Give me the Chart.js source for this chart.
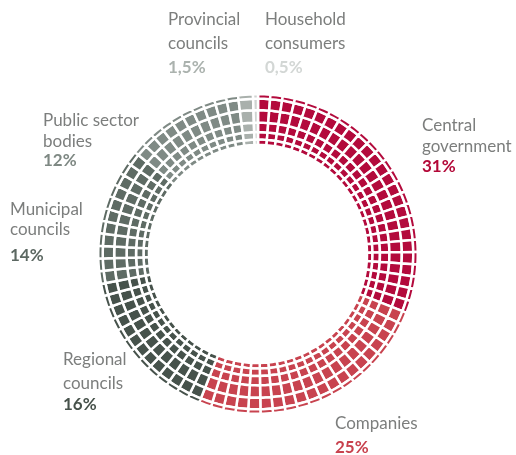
<!DOCTYPE html>
<html>
<head>
<meta charset="utf-8">
<script src="https://cdn.jsdelivr.net/npm/chart.js@4"></script>
<style>
  html, body { margin: 0; padding: 0; background: #fff; }
  #wrap { position: relative; width: 516px; height: 455px; }
</style>
</head>
<body>
<div id="wrap"><canvas id="shareChart" width="516" height="455"></canvas></div>
<script>
// Share of spending by customer group
const categories = ['Central government', 'Companies', 'Regional councils', 'Municipal councils', 'Public sector bodies', 'Provincial councils', 'Household consumers'];
const shares = [31, 25, 16, 14, 12, 1.5, 0.5];
const shareLabels = ['31%', '25%', '16%', '14%', '12%', '1,5%', '0,5%'];

const sliceColors = ['#b30a3c', '#c8434f', '#46524b', '#5e6b64', '#7f8a85', '#a9b0ac', '#cfd3d1'];
const textColors = ['#b30838', '#c8414d', '#46514a', '#5c6862', '#7e8883', '#abb2ae', '#d3d7d5'];

// label blocks: category name lines + left edge and baselines
const labelLayout = [
  { lines: ['Central', 'government'], x: 422, y: [131, 152, 172] },
  { lines: ['Companies'], x: 335, y: [429, 453] },
  { lines: ['Regional', 'councils'], x: 63, y: [365, 389, 410] },
  { lines: ['Municipal', 'councils'], x: 10, y: [215, 235, 261] },
  { lines: ['Public sector', 'bodies'], x: 43, y: [126, 147, 166] },
  { lines: ['Provincial', 'councils'], x: 168, y: [25, 49, 73] },
  { lines: ['Household', 'consumers'], x: 265, y: [25, 49, 73] }
];

// ring thicknesses, outermost first
const ringWeights = [4.5, 11.5, 12.5, 9.5, 7.5, 5.5];
const blockStep = 1.25;

// split every share into small equal blocks so the ring looks tiled
const blockValues = [];
const blockColors = [];
const blockNames = [];
shares.forEach((v, i) => {
  const n = Math.max(1, Math.round(v / blockStep));
  for (let k = 0; k < n; k++) {
    blockValues.push(v / n);
    blockColors.push(sliceColors[i]);
    blockNames.push(categories[i]);
  }
});

const labelPlugin = {
  id: 'sideLabels',
  afterDraw(chart) {
    const ctx = chart.ctx;
    ctx.save();
    ctx.textAlign = 'left';
    ctx.textBaseline = 'alphabetic';
    labelLayout.forEach((lab, i) => {
      ctx.font = '17px Lato';
      ctx.fillStyle = '#7c7e7d';
      lab.lines.forEach((t, j) => ctx.fillText(t, lab.x, lab.y[j]));
      ctx.font = 'bold 17px Lato';
      ctx.fillStyle = textColors[i];
      ctx.fillText(shareLabels[i], lab.x, lab.y[lab.lines.length]);
    });
    ctx.restore();
  }
};

new Chart(document.getElementById('shareChart'), {
  type: 'doughnut',
  data: {
    labels: blockNames,
    datasets: ringWeights.map(w => ({
      data: blockValues,
      backgroundColor: blockColors,
      borderColor: '#ffffff',
      borderWidth: 2.5,
      weight: w
    }))
  },
  options: {
    responsive: false,
    animation: false,
    cutout: 109,
    layout: { padding: { top: 93, bottom: 40, left: 0, right: 0 } },
    plugins: {
      legend: { display: false },
      tooltip: { enabled: false }
    }
  },
  plugins: [labelPlugin]
});
</script>
</body>
</html>
